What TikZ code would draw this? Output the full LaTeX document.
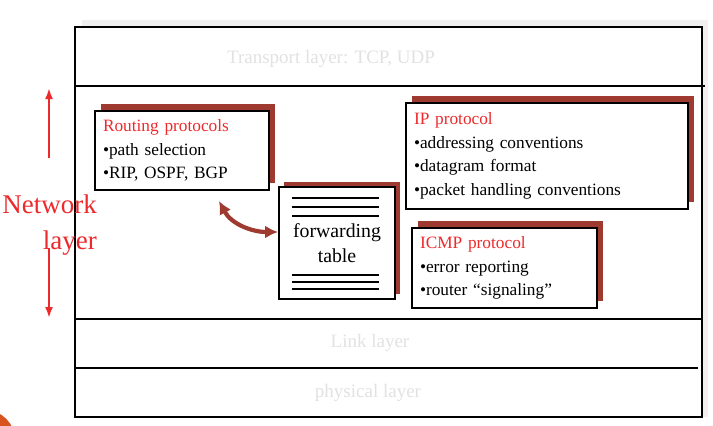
\documentclass[tikz,border=0pt]{standalone}
\usepackage{fontspec}
\setmainfont{Liberation Serif}
\usetikzlibrary{positioning,arrows.meta,calc,shadows}
\definecolor{slidered}{HTML}{EC2A2C}
\definecolor{shadowred}{HTML}{9E3A2F}
\definecolor{faintgray}{HTML}{E2E2E2}
\definecolor{dotorange}{HTML}{D9531E}
\tikzset{
  protobox/.style={rectangle,draw=black,line width=2pt,fill=white,align=left,inner xsep=8pt,inner ysep=0pt,font=\fontsize{17.3}{23.5}\selectfont,drop shadow={shadow xshift=6pt,shadow yshift=7pt,fill=shadowred,opacity=1}},
  tablebox/.style={rectangle,draw=black,line width=2pt,fill=white,align=center,minimum width=116pt,minimum height=112pt,font=\fontsize{19.8}{25}\selectfont,drop shadow={shadow xshift=5pt,shadow yshift=5pt,fill=shadowred,opacity=1}},
  tabline/.style={line width=2pt},
  layertext/.style={text=faintgray,font=\fontsize{19}{21}\selectfont},
  layerline/.style={line width=2pt},
  netlabel/.style={text=slidered,align=right,inner sep=0pt,font=\fontsize{27}{36}\selectfont},
  netarrow/.style={-{Latex[length=11pt,width=8pt]},line width=2.4pt,slidered},
  tablearrow/.style={{Latex[length=13pt,width=13pt]}-{Latex[length=13pt,width=13pt]},line width=4.2pt,shadowred}
}
\newcommand{\hd}[1]{\textcolor{slidered}{#1}}
\newcommand{\itm}{{\textbullet}}

\begin{document}
\begin{tikzpicture}[x=1pt,y=-1pt]
  \useasboundingbox (0,0) rectangle (713,426);

  % protocol stack frame
  \fill[black!6] (82,20) rectangle (708,417);
  \draw[layerline,fill=white] (75,27) rectangle (702,417);
  \draw[layerline] (75,86) -- (705,86);
  \draw[layerline] (75,319) -- (702,319);
  \draw[layerline] (75,368) -- (698,368);

  \node[layertext] (transport) at (331,59) {Transport layer: TCP, UDP};
  \node[layertext] (link) at (370,343) {Link layer};
  \node[layertext] (physical) at (368,393) {physical layer};

  % network layer
  \node[netlabel, anchor=east] (netname) at (97,225) {Network\\layer};
  \coordinate (nettop) at (49,88);
  \coordinate (netupper) at (49,158);
  \coordinate (netlower) at (49,248);
  \coordinate (netbottom) at (49,318);
  \draw[netarrow] (netupper) -- (nettop);
  \draw[netarrow] (netlower) -- (netbottom);

  \node[protobox, text width=158pt, minimum height=79pt] (routing) at (182,150.5)
    {\hd{Routing protocols}\\\itm path selection\\\itm RIP, OSPF, BGP};

  \node[protobox, text width=266pt, minimum height=106pt] (ip) at (547,156)
    {\hd{IP protocol}\\\itm addressing conventions\\\itm datagram format\\\itm packet handling conventions};

  \node[protobox, text width=169pt, minimum height=80pt] (icmp) at (504.5,268)
    {\hd{ICMP protocol}\\\itm error reporting\\\itm router ``signaling''};

  \node[tablebox] (fwd) at (337,243) {forwarding\\table};
  \foreach \dy in {12,21,30}
    \draw[tabline] ($(fwd.north west)+(14,\dy)$) -- ++(87,0);
  \foreach \dy in {-25,-18,-11}
    \draw[tabline] ($(fwd.south west)+(14,\dy)$) -- ++(87,0);

  \coordinate (rtout) at (219,201);
  \coordinate (fwdin) at ($(fwd.west)+(0,-11)$);
  \draw[tablearrow] (rtout) to[out=-62,in=180] (fwdin);

  \fill[dotorange] (-15,440) circle (30);
\end{tikzpicture}
\end{document}
